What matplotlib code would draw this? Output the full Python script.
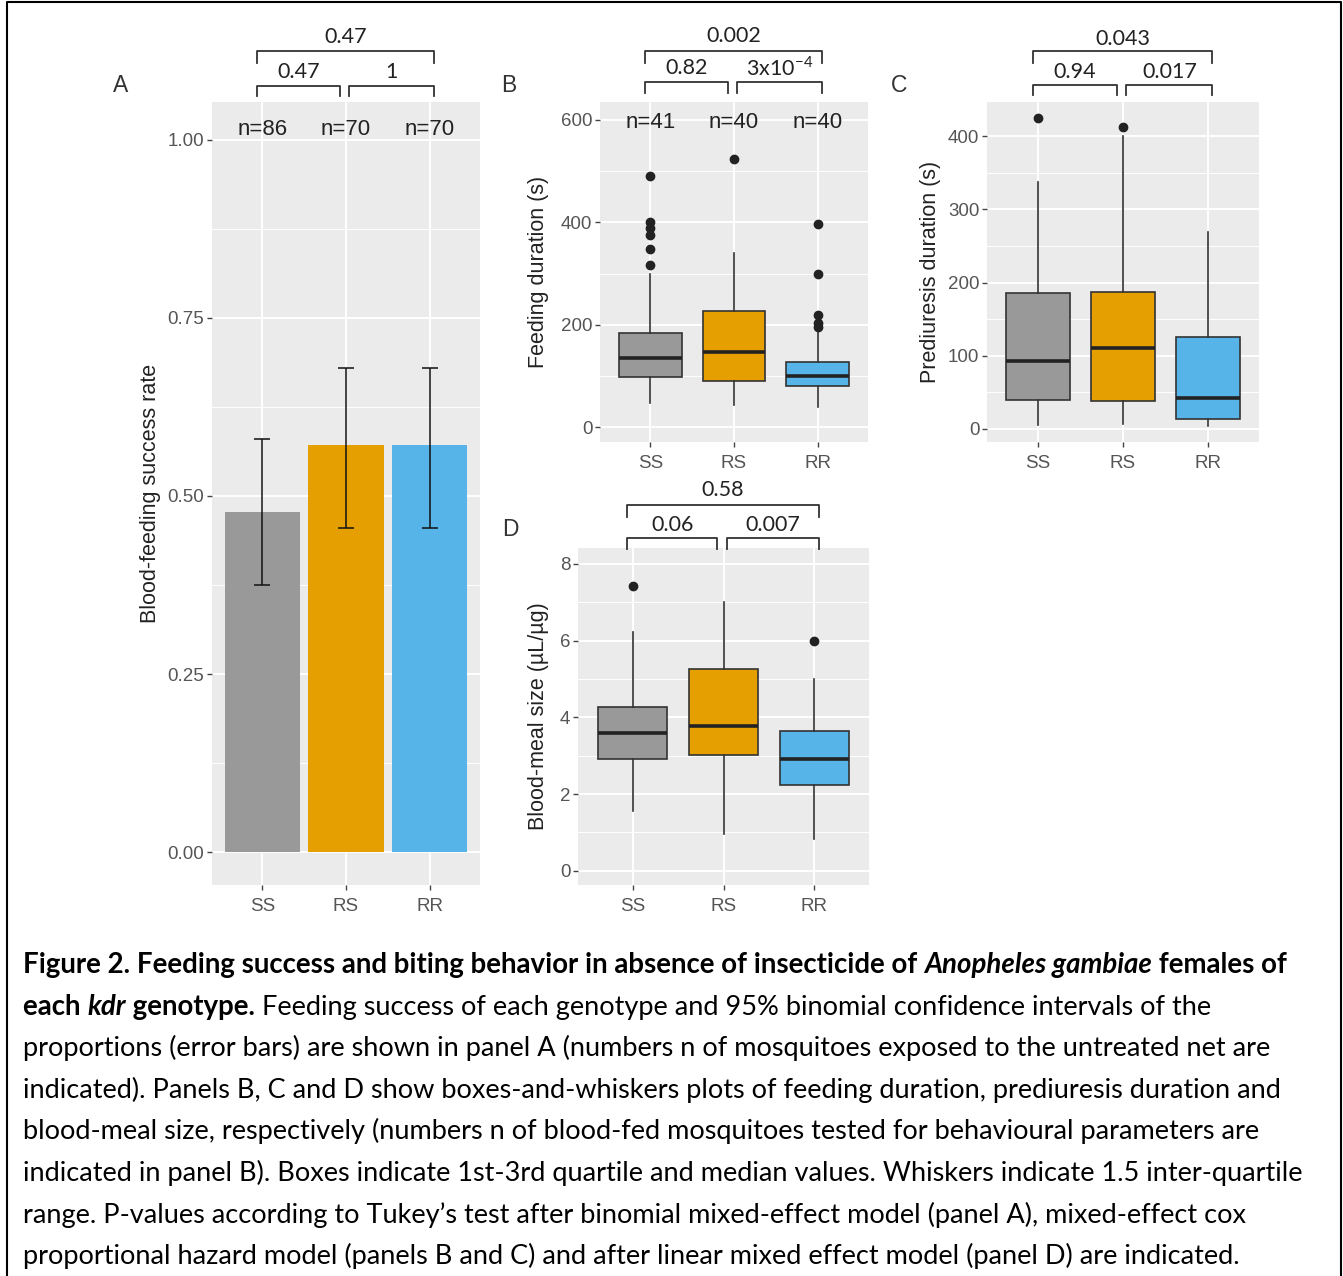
import matplotlib
matplotlib.use("Agg")
import matplotlib.pyplot as plt
import matplotlib.transforms as mtransforms
from matplotlib.lines import Line2D
from matplotlib.ticker import MultipleLocator, FormatStrFormatter

plt.rcParams["font.family"] = "Liberation Sans"
plt.rcParams["mathtext.fontset"] = "custom"
plt.rcParams["mathtext.rm"] = "Lato"

W, H = 1343, 1276

genotypes = ["SS", "RS", "RR"]
colors = ["#999999", "#E69F00", "#56B4E9"]

# panel A: blood-feeding success rate with 95% CI
feed_rate = [0.477, 0.572, 0.572]
feed_lo = [0.375, 0.455, 0.455]
feed_hi = [0.580, 0.680, 0.680]
n_exposed = [86, 70, 70]

# boxplot stats per genotype: [whisker low, q1, median, q3, whisker high]
feeding_stats = [[47, 98, 135, 184, 300], [43, 90, 146, 227, 340], [40, 81, 100, 127, 185]]
feeding_out = [[316, 348, 376, 388, 400, 490], [523], [196, 203, 219, 300, 397]]
n_fed = [41, 40, 40]

prediuresis_stats = [[5, 40, 93, 186, 337], [7, 38, 110, 187, 401], [4, 14, 42, 125, 269]]
prediuresis_out = [[425], [413], []]

meal_stats = [[1.56, 2.92, 3.59, 4.26, 6.23], [0.95, 3.01, 3.77, 5.26, 7.0], [0.82, 2.23, 2.92, 3.65, 5.0]]
meal_out = [[7.43], [], [6.0]]

# p-values: SS-RR, SS-RS, RS-RR
p_A = ["0.47", "0.47", "1"]
p_B = ["0.002", "0.82", r"3x10$^{\mathrm{-4}}$"]
p_C = ["0.043", "0.94", "0.017"]
p_D = ["0.58", "0.06", "0.007"]

fig = plt.figure(figsize=(W / 100, H / 100), dpi=100)


def add_ax(x0, y0, x1, y1):
    return fig.add_axes([x0 / W, 1 - y1 / H, (x1 - x0) / W, (y1 - y0) / H])


def style(ax, ylim, major, minor, fmt, ylabel, labx):
    ax.set_facecolor("#EBEBEB")
    ax.set_xlim(0.4, 3.6)
    ax.set_ylim(*ylim)
    ax.set_xticks([1, 2, 3])
    ax.set_xticklabels(genotypes)
    ax.yaxis.set_major_locator(MultipleLocator(major))
    ax.yaxis.set_minor_locator(MultipleLocator(minor))
    ax.yaxis.set_major_formatter(FormatStrFormatter(fmt))
    ax.grid(which="major", color="white", lw=1.4)
    ax.grid(which="minor", axis="y", color="white", lw=0.7)
    ax.set_axisbelow(True)
    for s in ax.spines.values():
        s.set_visible(False)
    ax.tick_params(which="major", length=3.5, width=1, color="#444444",
                   labelsize=13.5, labelcolor="#555555", pad=2)
    ax.tick_params(axis="x", pad=6)
    ax.tick_params(which="minor", length=0)
    ax.set_ylabel(ylabel, fontsize=15.5, color="#222222")
    ax.yaxis.set_label_coords(labx, 0.5)


def brackets(ax, pvals, ys):
    # ys: outer top, outer foot, inner top, inner foot, outer label, inner label (pixels from top)
    tr = mtransforms.blended_transform_factory(ax.transData, fig.transFigure)
    fy = lambda p: 1 - p / H
    spans = [(1 - 0.06, 3 + 0.05, ys[0], ys[1], ys[4]),
             (1 - 0.06, 2 - 0.07, ys[2], ys[3], ys[5]),
             (2 + 0.04, 3 + 0.05, ys[2], ys[3], ys[5])]
    for (x0, x1, yt, yb, yl), p in zip(spans, pvals):
        ax.plot([x0, x0, x1, x1], [fy(yb), fy(yt), fy(yt), fy(yb)], transform=tr,
                color="#333333", lw=1.3, clip_on=False)
        ax.text((x0 + x1) / 2, fy(yl), p, transform=tr, ha="center", va="center",
                fontsize=15.5, family="Lato", color="#222222", clip_on=False)


def boxes(ax, stats, outliers):
    bs = [dict(whislo=s[0], q1=s[1], med=s[2], q3=s[3], whishi=s[4], fliers=o)
          for s, o in zip(stats, outliers)]
    res = ax.bxp(bs, positions=[1, 2, 3], widths=0.75, patch_artist=True, showcaps=False,
                 manage_ticks=False,
                 boxprops=dict(edgecolor="#333333", lw=1.2),
                 medianprops=dict(color="#222222", lw=2.6),
                 whiskerprops=dict(color="#333333", lw=1.2),
                 flierprops=dict(marker="o", markerfacecolor="#222222",
                                 markeredgecolor="#222222", markersize=6))
    for b, c in zip(res["boxes"], colors):
        b.set_facecolor(c)


# Panel A
axA = add_ax(212, 102, 480, 885)
style(axA, (-0.046, 1.053), 0.25, 0.125, "%.2f", "Blood-feeding success rate", -0.19)
axA.bar([1, 2, 3], feed_rate, width=0.9, color=colors)
axA.errorbar([1, 2, 3], feed_rate,
             yerr=[[r - l for r, l in zip(feed_rate, feed_lo)], [h - r for r, h in zip(feed_rate, feed_hi)]],
             fmt="none", ecolor="#111111", elinewidth=1.1, capsize=5.8, capthick=1.1)
for i, n in enumerate(n_exposed):
    axA.text(i + 1, 1.014, "n=%d" % n, ha="center", va="center", fontsize=16, color="#222222")
brackets(axA, p_A, [51, 63, 86, 96, 37, 72])

# Panel B
axB = add_ax(600, 102, 868, 442)
style(axB, (-29, 635), 200, 100, "%d", "Feeding duration (s)", -0.19)
boxes(axB, feeding_stats, feeding_out)
for i, n in enumerate(n_fed):
    axB.text(i + 1, 594, "n=%d" % n, ha="center", va="center", fontsize=16, color="#222222")
brackets(axB, p_B, [51, 63, 82, 93, 36, 68])

# Panel C
axC = add_ax(987, 102, 1259, 442)
style(axC, (-18, 447), 100, 50, "%d", "Prediuresis duration (s)", -0.17)
boxes(axC, prediuresis_stats, prediuresis_out)
brackets(axC, p_C, [51, 63, 85, 95, 39, 72])

# Panel D
axD = add_ax(578, 548, 869, 885)
style(axD, (-0.37, 8.41), 2, 1, "%d", "Blood-meal size (µL/µg)", -0.1)
boxes(axD, meal_stats, meal_out)
brackets(axD, p_D, [505, 517, 538, 549, 490, 525])

for lab, (px, py) in zip("ABCD", [(121, 86), (509, 86), (899, 86), (510, 530)]):
    fig.text(px / W, 1 - py / H, lab, ha="center", va="center", fontsize=16.5, color="#333333")

# caption
renderer = fig.canvas.get_renderer()


def adv(s, **kw):
    t1 = fig.text(0, 0, "|" + s + "|", **kw)
    t2 = fig.text(0, 0, "||", **kw)
    w = t1.get_window_extent(renderer).width - t2.get_window_extent(renderer).width
    t1.remove()
    t2.remove()
    return w


B, BI, R = dict(weight="bold"), dict(weight="bold", style="italic"), {}
caption = [
    [("Figure 2. Feeding success and biting behavior in absence of insecticide of ", B),
     ("Anopheles gambiae", BI), (" females of", B)],
    [("each ", B), ("kdr", BI), (" genotype.", B),
     (" Feeding success of each genotype and 95% binomial confidence intervals of the", R)],
    [("proportions (error bars) are shown in panel A (numbers n of mosquitoes exposed to the untreated net are", R)],
    [("indicated). Panels B, C and D show boxes-and-whiskers plots of feeding duration, prediuresis duration and", R)],
    [("blood-meal size, respectively (numbers n of blood-fed mosquitoes tested for behavioural parameters are", R)],
    [("indicated in panel B). Boxes indicate 1st-3rd quartile and median values. Whiskers indicate 1.5 inter-quartile", R)],
    [("range. P-values according to Tukey\u2019s test after binomial mixed-effect model (panel A), mixed-effect cox", R)],
    [("proportional hazard model (panels B and C) and after linear mixed effect model (panel D) are indicated.", R)],
]
fs = 10 * 1285 / adv(caption[5][0][0], fontsize=10, family="Lato")
fs_bold = fs * 1.015
for k, line in enumerate(caption):
    x = 23
    y = 973 + k * 41.6
    for txt, st in line:
        size = fs_bold if st else fs
        kw = dict(fontsize=size, family="Lato", color="black", **st)
        fig.text(x / W, 1 - y / H, txt, va="baseline", ha="left", **kw)
        x += adv(txt, **kw)

# frame around the figure
fig.add_artist(Line2D([7 / W, 7 / W, 1341 / W, 1341 / W], [0, 1 - 2 / H, 1 - 2 / H, 0],
                      transform=fig.transFigure, color="black", lw=1.5))

fig.savefig("out.png", dpi=100)
